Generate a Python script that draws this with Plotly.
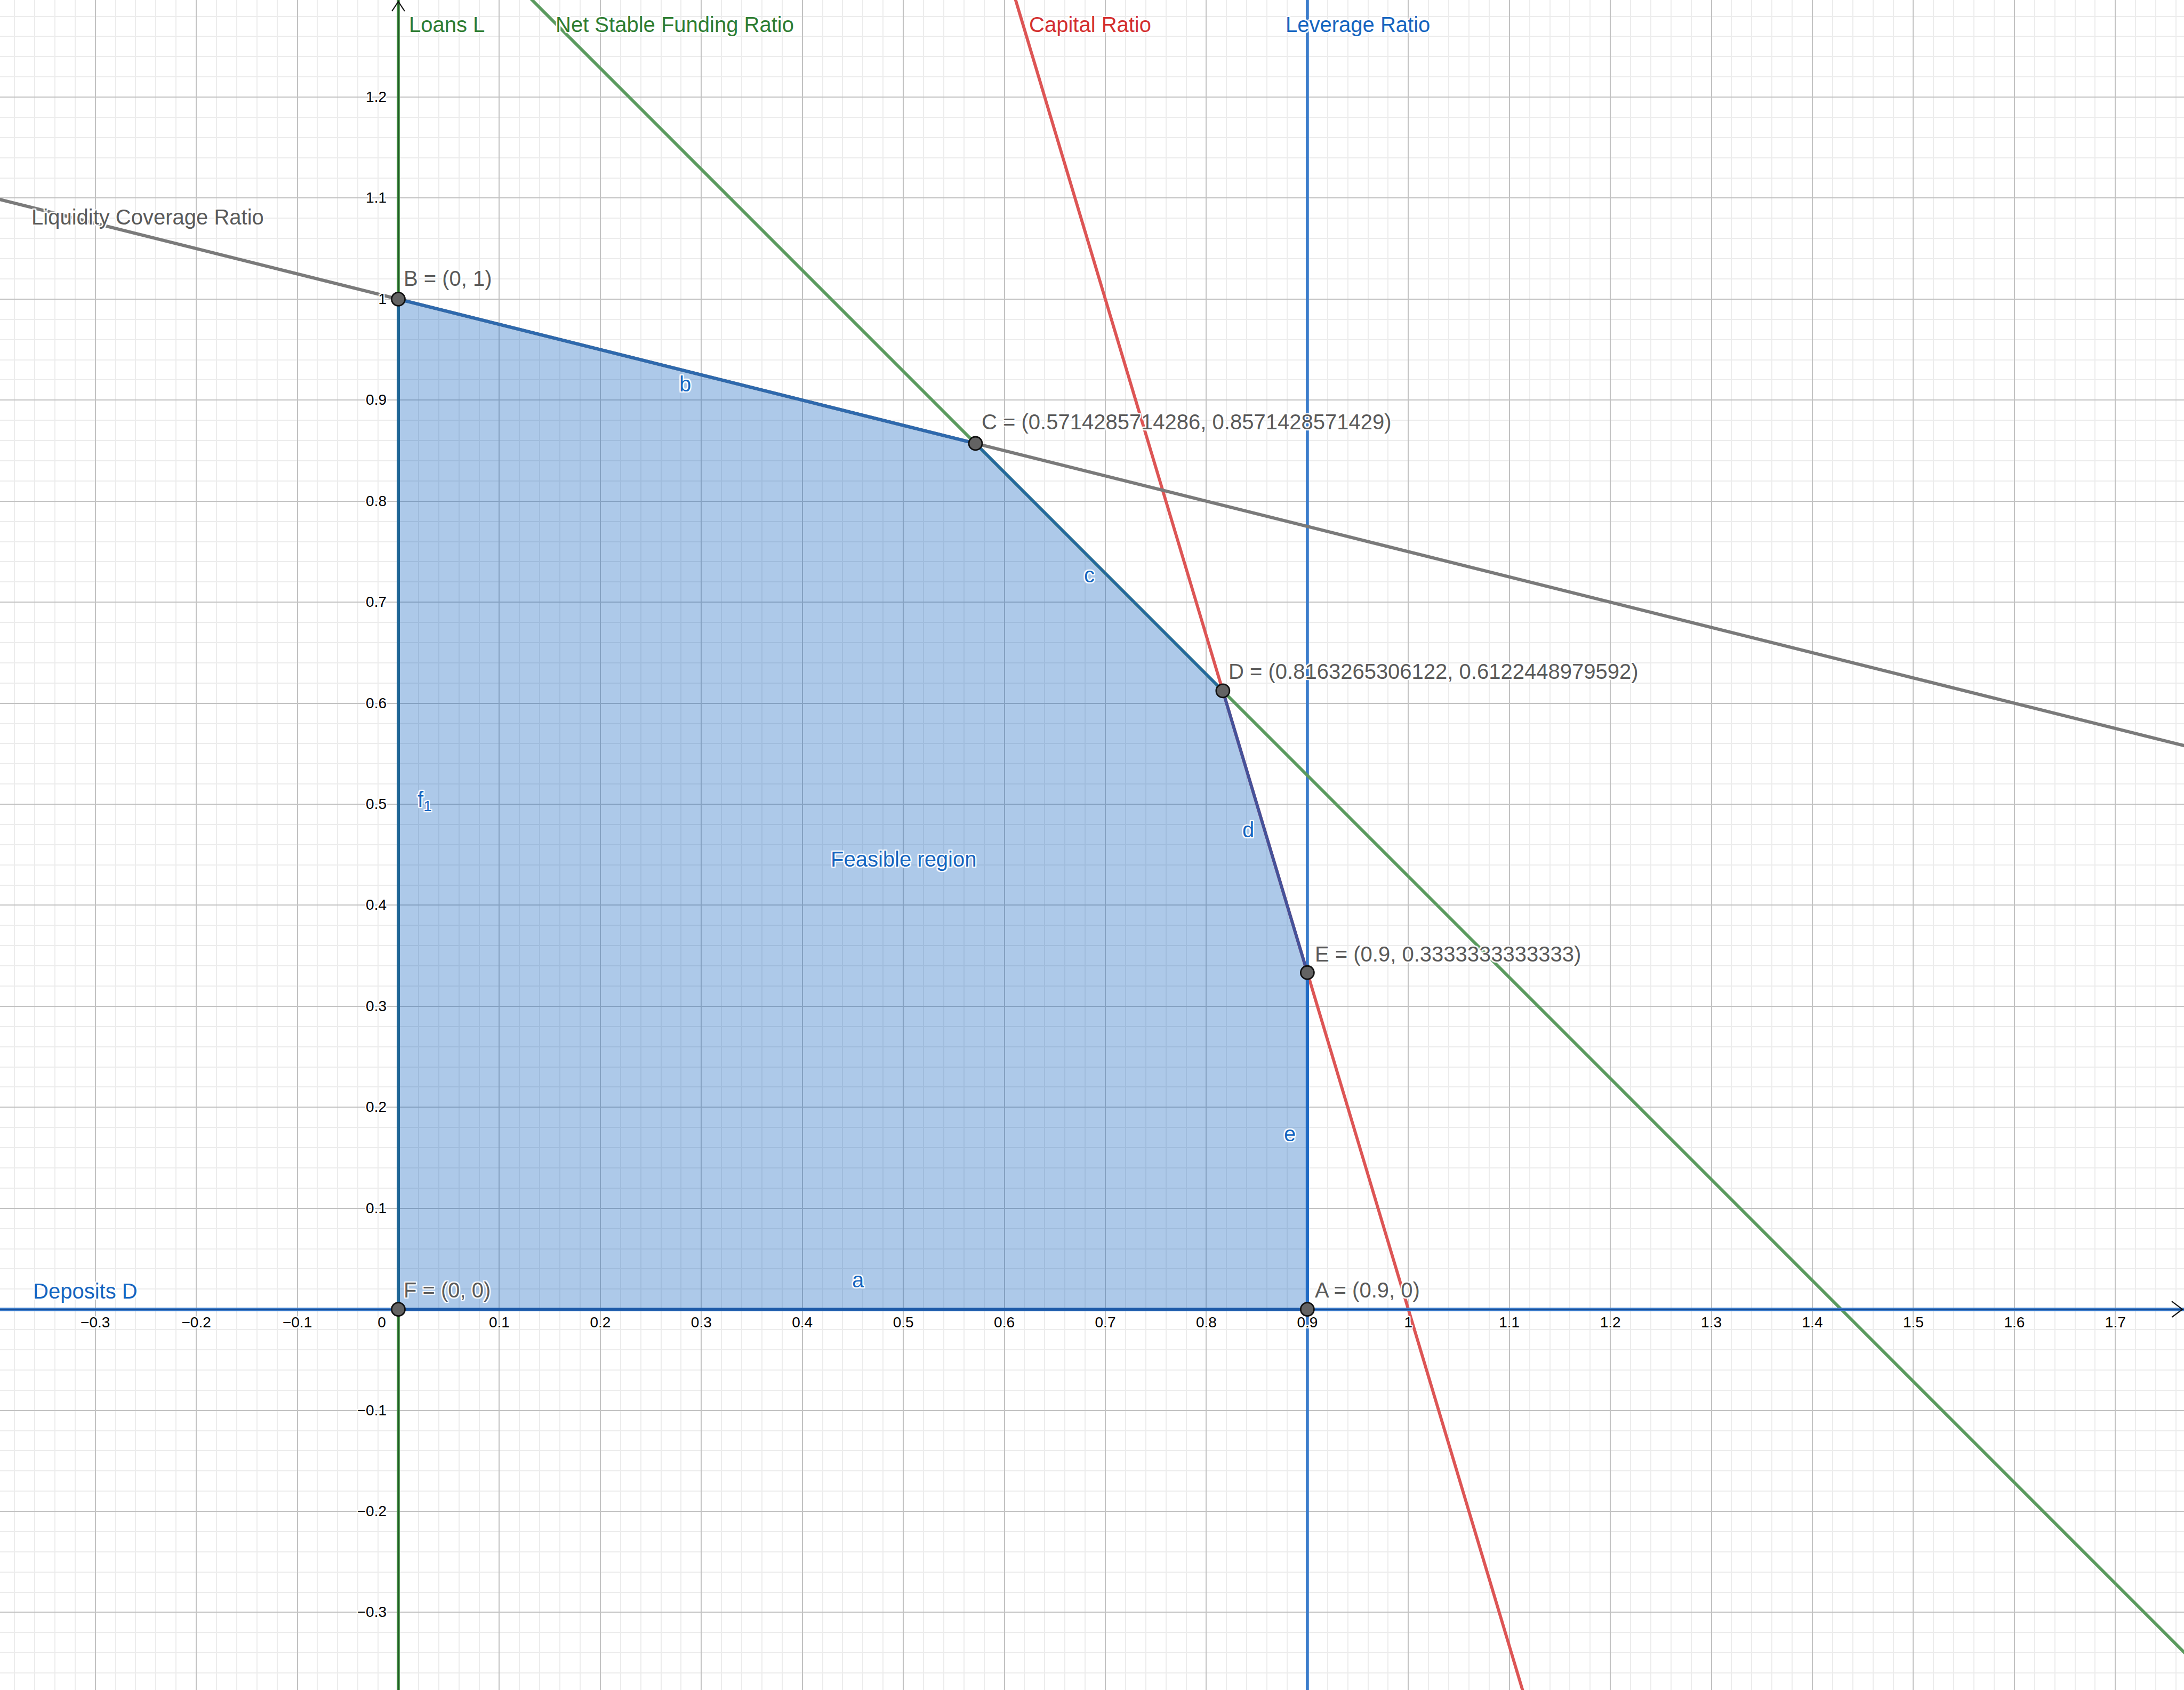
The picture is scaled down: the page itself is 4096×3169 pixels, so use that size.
import plotly.graph_objects as go

# ---------------- data ----------------
vertex_names = ["A", "B", "C", "D", "E", "F"]
vertex_x = [0.9, 0.0, 0.5714285714286, 0.8163265306122, 0.9, 0.0]
vertex_y = [0.0, 1.0, 0.8571428571429, 0.6122448979592, 0.3333333333333, 0.0]
vertex_labels = ["A = (0.9, 0)", "B = (0, 1)",
                 "C = (0.5714285714286, 0.8571428571429)",
                 "D = (0.8163265306122, 0.6122448979592)",
                 "E = (0.9, 0.3333333333333)", "F = (0, 0)"]

polygon_order = ["F", "A", "E", "D", "C", "B"]

segment_names = ["a", "b", "c", "d", "e", "f<sub>1</sub>"]
segment_ends = [("F", "A"), ("B", "C"), ("C", "D"), ("D", "E"), ("E", "A"), ("F", "B")]

constraint_names = ["Liquidity Coverage Ratio", "Net Stable Funding Ratio",
                    "Capital Ratio", "Leverage Ratio"]
constraint_through = [("B", "C"), ("C", "D"), ("D", "E"), ("E", "A")]

x_tick_vals = [-0.3, -0.2, -0.1, 0.0, 0.1, 0.2, 0.3, 0.4, 0.5, 0.6, 0.7, 0.8, 0.9,
               1.0, 1.1, 1.2, 1.3, 1.4, 1.5, 1.6, 1.7]
x_tick_text = ["\u22120.3", "\u22120.2", "\u22120.1", "0", "0.1", "0.2", "0.3", "0.4",
               "0.5", "0.6", "0.7", "0.8", "0.9", "1", "1.1", "1.2", "1.3", "1.4",
               "1.5", "1.6", "1.7"]
y_tick_vals = [-0.3, -0.2, -0.1, 0.1, 0.2, 0.3, 0.4, 0.5, 0.6, 0.7, 0.8, 0.9, 1.0, 1.1, 1.2]
y_tick_text = ["\u22120.3", "\u22120.2", "\u22120.1", "0.1", "0.2", "0.3", "0.4", "0.5",
               "0.6", "0.7", "0.8", "0.9", "1", "1.1", "1.2"]

# ---------------- layout geometry ----------------
W, H = 4096, 3169
UNIT = 1894.3            # pixels per data unit (1:1 aspect)
X0_PX, Y0_PX = 747.0, 2455.2
X_MIN = -X0_PX / UNIT
X_MAX = (W - X0_PX) / UNIT
Y_MAX = Y0_PX / UNIT
Y_MIN = -(H - Y0_PX) / UNIT
PX = 1.0 / UNIT

FONT = "Liberation Sans, Arial, Helvetica, sans-serif"
HALO = ("white 2px 0px 1px, white -2px 0px 1px, white 0px 2px 1px, white 0px -2px 1px, "
        "white 2px 2px 1px, white -2px -2px 1px, white 2px -2px 1px, white -2px 2px 1px")

pt = {n: (x, y) for n, x, y in zip(vertex_names, vertex_x, vertex_y)}

fig = go.Figure()


def add_line(xs, ys, color, width):
    fig.add_trace(go.Scatter(x=xs, y=ys, mode="lines",
                             line=dict(color=color, width=width),
                             hoverinfo="skip", showlegend=False))


# feasible region
fig.add_trace(go.Scatter(
    x=[pt[n][0] for n in polygon_order], y=[pt[n][1] for n in polygon_order],
    fill="toself", fillcolor="rgba(21,101,192,0.35)", mode="none",
    hoverinfo="skip", showlegend=False))

# constraint lines (extended across the view)
line_colors = ["#7a7a7a", "#5a9a5e", "#dd5555", "#3b7ccb"]
line_widths = [6.2, 5.8, 5.8, 5.8]
for i in [3, 2, 1, 0]:
    p, q = constraint_through[i]
    (x1, y1), (x2, y2) = pt[p], pt[q]
    if abs(x2 - x1) < 1e-12:
        xs, ys = [x1, x1], [Y_MIN - 1, Y_MAX + 1]
    else:
        m = (y2 - y1) / (x2 - x1)
        xs = [X_MIN - 1, X_MAX + 1]
        ys = [y1 + m * (xv - x1) for xv in xs]
    add_line(xs, ys, line_colors[i], line_widths[i])

# y axis (Loans L): green line over a thin dark axis
add_line([0, 0], [Y_MIN - 1, Y_MAX], "#3d8a3d", 5.6)
add_line([0, 0], [Y_MIN - 1, Y_MAX], "#24582a", 1.8)
# x axis (Deposits D)
add_line([X_MIN - 1, X_MAX], [0, 0], "#3c7dcc", 6.4)
add_line([X_MIN - 1, X_MAX], [0, 0], "#1a4f98", 2.0)

# axis arrows (chevrons)
ax_tip = X_MAX - 3 * PX
add_line([ax_tip - 20 * PX, ax_tip, ax_tip - 20 * PX], [15 * PX, 0, -15 * PX], "#111111", 2.2)
ay_tip = Y_MAX - 3 * PX
add_line([-12 * PX, 0, 12 * PX], [ay_tip - 18 * PX, ay_tip, ay_tip - 18 * PX], "#111111", 2.2)

# polygon edges
seg_colors = ["#1d5aa8", "#2e69ad", "#23689f", "#45529a", "#1f6ac4", "#1f6696"]
seg_widths = [5.0, 6.2, 5.4, 5.8, 6.0, 6.0]
for name, (p, q), c, w in zip(segment_names, segment_ends, seg_colors, seg_widths):
    add_line([pt[p][0], pt[q][0]], [pt[p][1], pt[q][1]], c, w)

# points
fig.add_trace(go.Scatter(x=vertex_x, y=vertex_y, mode="markers",
                         marker=dict(size=25, color="#636363",
                                     line=dict(color="#111111", width=2.8)),
                         hoverinfo="skip", showlegend=False))

# tick labels
fig.add_trace(go.Scatter(
    x=[v - (31 * PX if v == 0 else 0) for v in x_tick_vals],
    y=[-27 * PX] * len(x_tick_vals),
    text=x_tick_text, mode="text", textposition="middle center",
    textfont=dict(family=FONT, size=28, color="#000000", shadow=HALO),
    hoverinfo="skip", showlegend=False))
fig.add_trace(go.Scatter(
    x=[-22 * PX] * len(y_tick_vals), y=[v - 2 * PX for v in y_tick_vals],
    text=y_tick_text, mode="text", textposition="middle left",
    textfont=dict(family=FONT, size=28, color="#000000", shadow=HALO),
    hoverinfo="skip", showlegend=False))

annotations = []


def label(text, x, y, color, xanchor="left", size=40):
    annotations.append(dict(text=text, x=x, y=y, xref="x", yref="y",
                            xanchor=xanchor, yanchor="middle", showarrow=False,
                            font=dict(family=FONT, size=size, color=color, shadow=HALO)))


GREEN_T = "#2e7d32"
RED_T = "#d32f2f"
BLUE_T = "#1565c0"
GRAY_T = "#5a5a5a"

# constraint / axis names
label("Loans L", 0.0097, 1.2717, GREEN_T)
label(constraint_names[1], 0.1545, 1.2717, GREEN_T)
label(constraint_names[2], 0.6234, 1.2717, RED_T)
label(constraint_names[3], 0.8772, 1.2717, BLUE_T)
label(constraint_names[0], -0.3641, 1.0814, GRAY_T)
label("Deposits D", -0.3628, 0.0179, BLUE_T)

# point labels
pt_label_pos = {"A": (0.9062, 0.0193), "B": (0.0041, 1.0207), "C": (0.5766, 0.8786),
                "D": (0.8207, 0.6317), "E": (0.9062, 0.3517), "F": (0.0041, 0.0193)}
for n, t in zip(vertex_names, vertex_labels):
    lx, ly = pt_label_pos[n]
    label(t, lx, ly, GRAY_T)

# segment labels
seg_label_pos = [(0.4552, 0.0290), (0.2841, 0.9159), (0.6841, 0.7269),
                 (0.8414, 0.4745), (0.8828, 0.1738), (0.0262, 0.5034)]
for t, (lx, ly) in zip(segment_names, seg_label_pos):
    label(t, lx, ly, BLUE_T, xanchor="center")

label("Feasible region", 0.5007, 0.4455, BLUE_T, xanchor="center")

fig.update_layout(
    width=W, height=H,
    margin=dict(l=0, r=0, t=0, b=0, pad=0),
    paper_bgcolor="white", plot_bgcolor="white",
    showlegend=False,
    annotations=annotations,
    xaxis=dict(range=[X_MIN, X_MAX], showticklabels=False, ticks="",
               showgrid=True, gridcolor="#c2c2c2", gridwidth=2.2,
               tick0=0, dtick=0.1, zeroline=False, showline=False,
               minor=dict(dtick=0.02, tick0=0, showgrid=True,
                          gridcolor="#ececec", gridwidth=2.2, ticks="")),
    yaxis=dict(range=[Y_MIN, Y_MAX], showticklabels=False, ticks="",
               showgrid=True, gridcolor="#c2c2c2", gridwidth=2.2,
               tick0=0, dtick=0.1, zeroline=False, showline=False,
               minor=dict(dtick=0.02, tick0=0, showgrid=True,
                          gridcolor="#ececec", gridwidth=2.2, ticks="")),
)

fig.write_html("out.html",
               config={"displayModeBar": False},
               post_script="document.body.style.margin='0';document.body.style.overflow='hidden';")
